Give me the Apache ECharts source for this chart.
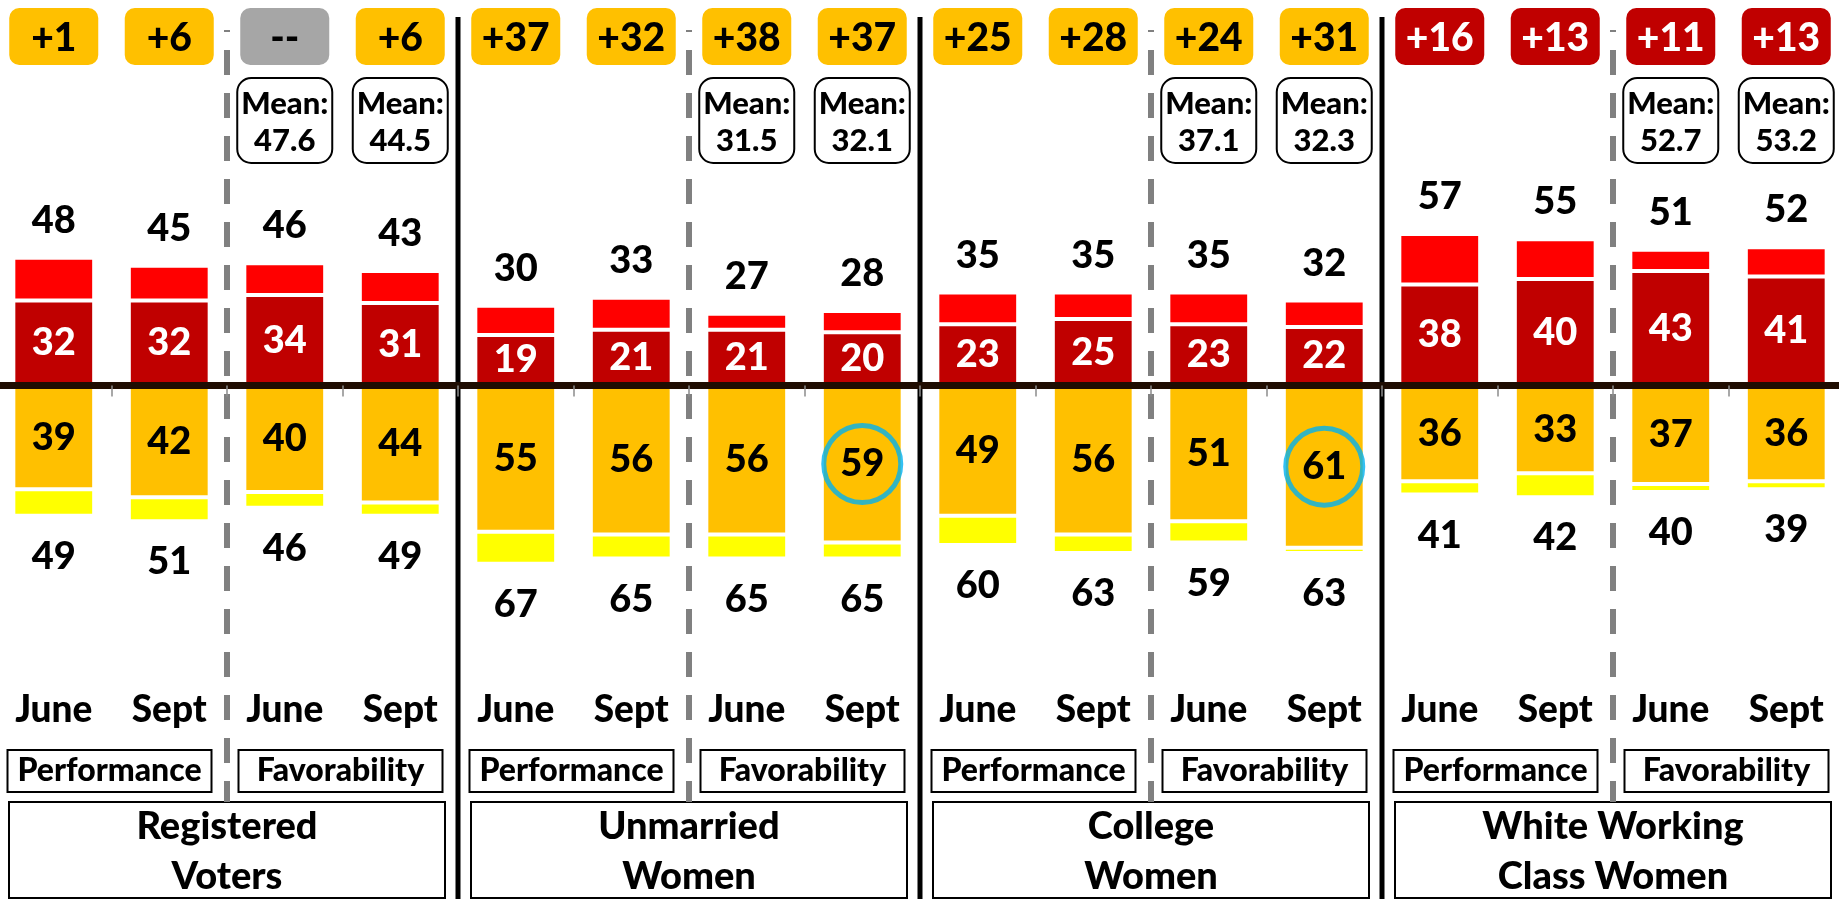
<!DOCTYPE html>
<html>
<head>
<meta charset="utf-8">
<title>Performance and Favorability, June vs Sept</title>
<script src="https://cdn.jsdelivr.net/npm/echarts@6/dist/echarts.min.js"></script>
<style>
html, body { margin: 0; padding: 0; background: #fff; }
#main { width: 1839px; height: 899px; }
</style>
</head>
<body>
<div id="main"></div>
<script>
var months = ['June', 'Sept', 'June', 'Sept', 'June', 'Sept', 'June', 'Sept',
              'June', 'Sept', 'June', 'Sept', 'June', 'Sept', 'June', 'Sept'];
var measures = ['Performance', 'Favorability'];
var groups = ['Registered\nVoters', 'Unmarried\nWomen', 'College\nWomen', 'White Working\nClass Women'];

// upper stack: strong part (dark red) and total (red on top)
var topStrong = [32, 32, 34, 31, 19, 21, 21, 20, 23, 25, 23, 22, 38, 40, 43, 41];
var topTotal  = [48, 45, 46, 43, 30, 33, 27, 28, 35, 35, 35, 32, 57, 55, 51, 52];
// lower stack: strong part (orange) and total (yellow below)
var bottomStrong = [39, 42, 40, 44, 55, 56, 56, 59, 49, 56, 51, 61, 36, 33, 37, 36];
var bottomTotal  = [49, 51, 46, 49, 67, 65, 65, 65, 60, 63, 59, 63, 41, 42, 40, 39];
// thermometer means, favorability columns only
var means = [null, null, 47.6, 44.5, null, null, 31.5, 32.1, null, null, 37.1, 32.3, null, null, 52.7, 53.2];
// columns with a blue ring round the strong value
var circled = [7, 11];

var FONT = 'Lato';
var W = 900;

var myChart = echarts.init(document.getElementById('main'));

function txt(text, x, y, size, color, lh) {
    return {
        type: 'text',
        style: {
            text: text, x: x, y: y, fill: color,
            fontSize: size, fontWeight: W, fontFamily: FONT,
            align: 'center', verticalAlign: 'middle',
            lineHeight: lh || size * 1.2
        }
    };
}

/* frame: separators, badges, mean boxes, bottom boxes */
function drawFrame(params, api) {
    var i = api.value(0);
    var x = api.coord([i, 0])[0];
    var band = api.size([1, 0])[0];
    var edge = x - band / 2;
    var kids = [];

    if (i % 4 === 0 && i > 0) {
        kids.push({type: 'line', shape: {x1: edge, y1: 17, x2: edge, y2: 899},
            style: {stroke: '#000', lineWidth: 5}});
    }
    if (i % 4 === 2) {
        kids.push({type: 'line', shape: {x1: edge, y1: 30, x2: edge, y2: 802},
            style: {stroke: '#808080', lineWidth: 6, lineDash: [25, 18], lineDashOffset: 23}});
    }

    // margin badge
    var diff = bottomTotal[i] - topTotal[i];
    var fill = diff > 0 ? '#FFC000' : (diff < 0 ? '#C00000' : '#A6A6A6');
    kids.push({type: 'rect', shape: {x: x - 44.5, y: 8, width: 89, height: 57, r: 10},
        style: {fill: fill}});
    kids.push(txt(diff === 0 ? '--' : '+' + Math.abs(diff), x, 38, 39, diff < 0 ? '#fff' : '#000'));

    // mean box
    if (means[i] != null) {
        kids.push({type: 'rect', shape: {x: x - 47.5, y: 78, width: 95, height: 85, r: 14},
            style: {fill: '#fff', stroke: '#000', lineWidth: 2}});
        kids.push(txt('Mean:', x, 104, 31, '#000'));
        kids.push(txt(means[i].toFixed(1), x, 141, 31, '#000'));
    }

    // Performance / Favorability box
    if (i % 2 === 0) {
        var cx = x + band / 2 - 2;
        kids.push({type: 'rect', shape: {x: cx - 102, y: 750, width: 204, height: 42},
            style: {fill: '#fff', stroke: '#000', lineWidth: 2}});
        kids.push(txt(measures[(i / 2) % 2], cx, 771, 32, '#000'));
    }
    // group box
    if (i % 4 === 0) {
        var gx = x + band * 1.5;
        kids.push({type: 'rect', shape: {x: gx - 218, y: 802, width: 436, height: 96},
            style: {fill: '#fff', stroke: '#000', lineWidth: 2}});
        kids.push(txt(groups[i / 4], gx, 852, 38, '#000', 50));
    }
    return {type: 'group', children: kids};
}

var labelBase = {show: true, fontSize: 38, fontWeight: W, fontFamily: FONT, color: '#000'};

option = {
    animation: false,
    grid: {left: -4, right: -5, top: 13.1, height: 665, outerBoundsMode: 'none'},
    xAxis: [
        {
            type: 'category',
            data: months,
            position: 'bottom',
            z: 10,
            axisLine: {onZero: true, lineStyle: {color: '#1F0D02', width: 7}},
            axisTick: {show: true, length: 11, lineStyle: {color: '#8C8C8C', width: 1.5}},
            axisLabel: {show: false},
            splitLine: {show: false}
        },
        {
            type: 'category',
            data: months,
            position: 'bottom',
            axisLine: {show: false, onZero: false},
            axisTick: {show: false},
            axisLabel: {show: true, interval: 0, margin: 13, fontSize: 37, fontWeight: W,
                fontFamily: FONT, color: '#000'}
        }
    ],
    yAxis: {type: 'value', min: -110, max: 140, show: false},
    series: [
        {
            name: 'topStrong',
            type: 'bar',
            stack: 'all',
            barWidth: '70%',
            data: topStrong,
            itemStyle: {color: '#C00000', borderColor: '#fff', borderWidth: 2},
            label: Object.assign({}, labelBase, {position: 'inside', color: '#fff'})
        },
        {
            name: 'topRest',
            type: 'bar',
            stack: 'all',
            data: topTotal.map(function (t, i) { return t - topStrong[i]; }),
            itemStyle: {color: '#FF0000', borderColor: '#fff', borderWidth: 2},
            label: Object.assign({}, labelBase, {position: 'top', distance: 18,
                formatter: function (p) { return topTotal[p.dataIndex]; }})
        },
        {
            name: 'bottomStrong',
            type: 'bar',
            stack: 'all',
            data: bottomStrong.map(function (v) { return -v; }),
            itemStyle: {color: '#FFC000', borderColor: '#fff', borderWidth: 2},
            label: Object.assign({}, labelBase, {position: 'inside',
                formatter: function (p) { return bottomStrong[p.dataIndex]; }})
        },
        {
            name: 'bottomRest',
            type: 'bar',
            stack: 'all',
            data: bottomTotal.map(function (t, i) { return -(t - bottomStrong[i]); }),
            itemStyle: {color: '#FFFF00', borderColor: '#fff', borderWidth: 2},
            label: Object.assign({}, labelBase, {position: 'bottom', distance: 22,
                formatter: function (p) { return bottomTotal[p.dataIndex]; }})
        },
        {
            name: 'ring',
            type: 'scatter',
            data: circled.map(function (i) { return [i, -bottomStrong[i] / 2]; }),
            symbol: 'circle',
            symbolSize: 77,
            itemStyle: {color: 'rgba(0,0,0,0)', borderColor: '#00B0F0', borderWidth: 5},
            z: 5,
            silent: true
        },
        {
            name: 'frame',
            type: 'custom',
            data: months.map(function (m, i) { return [i, 0]; }),
            renderItem: drawFrame,
            z: 1,
            silent: true
        }
    ]
};
/*调用option生成图表*/
myChart.setOption(option);
</script>
</body>
</html>
